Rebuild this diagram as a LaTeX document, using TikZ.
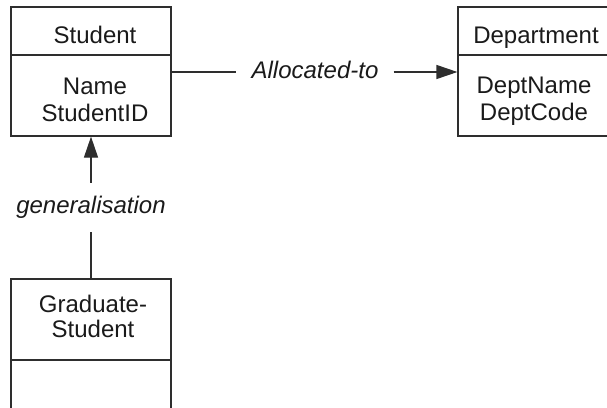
\documentclass[tikz,border=0pt]{standalone}
\usepackage{fontspec}
\setmainfont{Liberation Sans}
\usetikzlibrary{arrows.meta}
\definecolor{ink}{HTML}{1A1A1A}
\definecolor{rule}{HTML}{2E2E2E}
\begin{document}
\begin{tikzpicture}[x=1pt,y=-1pt,
  classbox/.style={draw=rule,line width=1.2pt,minimum width=160pt,inner sep=0pt},
  divider/.style={draw=rule,line width=1.2pt},
  txt/.style={anchor=base,inner sep=0pt,text=ink,font=\fontsize{24pt}{28pt}\selectfont},
  rel/.style={inner xsep=15pt,inner ysep=13.5pt,text height=17pt,text depth=5pt,
    text=ink,font=\fontsize{24pt}{28pt}\selectfont\itshape},
  conn/.style={draw=rule,line width=1.2pt},
  tip/.style={-{Triangle[length=21pt,width=14pt]}}]
\useasboundingbox (0,0) rectangle (607,407);
\clip (0,0) rectangle (607,407);

% Student class
\node[classbox,minimum height=129pt] (stu) at (91,71.5) {};
\draw[divider] (stu.west |- 0,55) -- (stu.east |- 0,55);
\node[txt] (stuT) at (95,43) {Student};
\node[txt] (stuA) at (95,94) {Name};
\node[txt] (stuB) at (95,121) {StudentID};

% Department class (runs off the right edge)
\node[classbox,minimum height=129pt] (dept) at (538,71.5) {};
\draw[divider] (dept.west |- 0,55) -- (dept.east |- 0,55);
\node[txt] (deptT) at (536,43) {Department};
\node[txt] (deptA) at (534,93) {DeptName};
\node[txt] (deptB) at (534,120) {DeptCode};

% Graduate-Student class (runs off the bottom edge)
\node[classbox,minimum height=151pt] (grad) at (91,354.5) {};
\draw[divider] (grad.west |- 0,360) -- (grad.east |- 0,360);
\node[txt] (gradA) at (93,312) {Graduate-};
\node[txt] (gradB) at (93,337) {Student};

% Association
\node[rel] (alloc) at (315,72) {Allocated-to};
\draw[conn] (alloc.west -| stu.east) -- (alloc.west);
\draw[conn,tip] (alloc.east) -- (alloc.east -| dept.west);

% Generalisation
\node[rel] (gen) at (91,207.5) {generalisation};
\draw[conn] (grad.north) -- (gen.south);
\draw[conn,tip] (gen.north) -- (stu.south);
\end{tikzpicture}
\end{document}
